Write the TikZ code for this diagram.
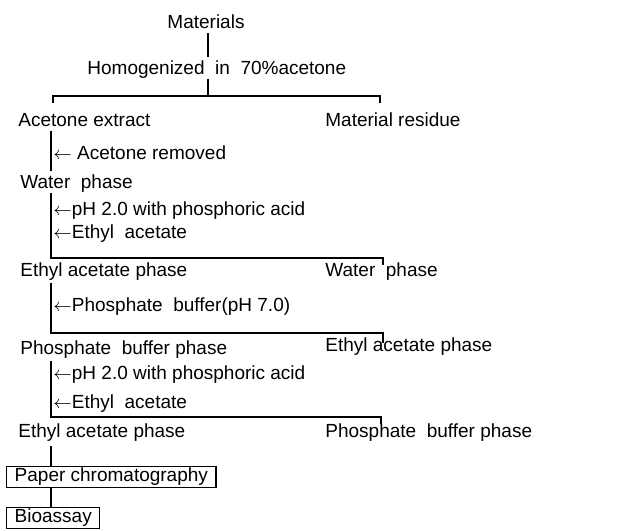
\documentclass[tikz,border=0pt]{standalone}
\usepackage{fontspec}
\setmainfont{Liberation Sans}

\begin{document}
\begin{tikzpicture}[
    x=0.5pt, y=-0.5pt,
    txt/.style={inner sep=0pt, text height=6.8pt, text depth=0pt, font=\fontsize{9.5}{11}\selectfont},
    lbl/.style={txt, anchor=west},
    boxnode/.style={txt, draw, anchor=west, inner xsep=4pt, minimum height=10.5pt, text depth=2pt, line width=0.7pt},
    flow/.style={line width=0.7pt},
    gap/.style={flow, shorten <=2pt, shorten >=2pt}
]
\useasboundingbox (0,0) rectangle (636,530);

\node[txt] (mat) at (206,22) {Materials};
\node[lbl] (hom) at (87,68) {Homogenized\ \ in\ \ 70\%acetone};
\node[lbl] (ext) at (18,120) {Acetone extract};
\node[lbl] (res) at (325,120) {Material residue};
\node[lbl] (wat1) at (20,182) {Water\ \ phase};
\node[lbl] (eth1) at (20,270) {Ethyl acetate phase};
\node[lbl] (wat2) at (325,270) {Water\ \ phase};
\node[lbl] (pho1) at (20,348) {Phosphate\ \ buffer phase};
\node[lbl] (eth2) at (325,345) {Ethyl acetate phase};
\node[lbl] (eth3) at (18,431) {Ethyl acetate phase};
\node[lbl] (pho2) at (325,431) {Phosphate\ \ buffer phase};
\node[boxnode] (chrom) at (6,477) {Paper chromatography};
\node[boxnode] (bio) at (6,518) {Bioassay};

% added reagents along the trunk
\node[lbl] (s1) at (53,153) {$\leftarrow$ Acetone removed};
\node[lbl] (s2) at (53,209) {$\leftarrow$pH 2.0 with phosphoric acid};
\node[lbl] (s3) at (53,232) {$\leftarrow$Ethyl\ \ acetate};
\node[lbl] (s4) at (53,305) {$\leftarrow$Phosphate\ \ buffer(pH 7.0)};
\node[lbl] (s5) at (53,373) {$\leftarrow$pH 2.0 with phosphoric acid};
\node[lbl] (s6) at (53,402) {$\leftarrow$Ethyl\ \ acetate};

\coordinate (tk) at (51,0);
\coordinate (top) at (208,0);
\coordinate (l1) at (53,96);
\coordinate (r1) at (380,96);
\coordinate (l2) at (51,258);
\coordinate (r2) at (383,258);
\coordinate (l3) at (51,333);
\coordinate (r3) at (383,333);
\coordinate (l4) at (51,417);
\coordinate (r4) at (381,417);

\draw[gap] (mat.south -| top) -- (hom.north -| top);
\draw[flow, shorten <=2pt] (hom.south -| top) -- (l1 -| top);
\draw[flow] (l1) ++(0,7) -- (l1) -- (r1) -- ++(0,7);

\draw[gap] (ext.south -| tk) -- (wat1.north -| tk);
\draw[flow, shorten <=2pt] (wat1.south -| tk) -- (l2) -- (r2) -- ++(0,7);
\draw[flow, shorten <=3pt] (eth1.south -| tk) -- (l3) -- (r3) -- ++(0,10);
\draw[flow, shorten <=3pt] (pho1.south -| tk) -- (l4) -- (r4) -- ++(0,7);

\draw[flow, shorten <=4pt] (eth3.south -| tk) -- (chrom.north -| tk);
\draw[flow] (chrom.south -| tk) -- (bio.north -| tk);
\end{tikzpicture}
\end{document}
